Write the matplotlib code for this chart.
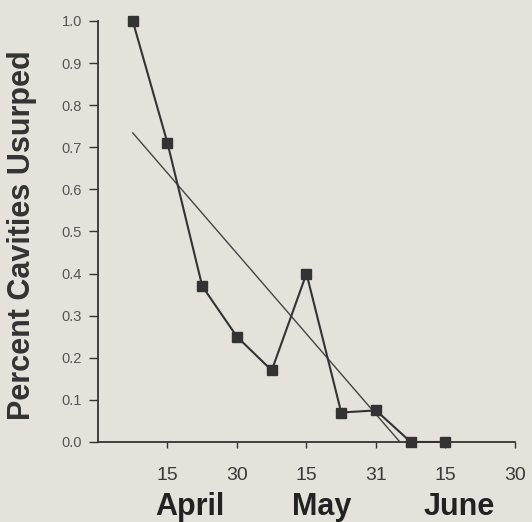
import matplotlib
matplotlib.use("Agg")
import matplotlib.pyplot as plt
import numpy as np

plt.rcParams['font.family'] = ['Liberation Sans', 'DejaVu Sans']

# x in half-month steps from April 1
x_pos = [0.5, 1.0, 1.5, 2.0, 2.5, 3.0, 3.5, 4.0, 4.5, 5.0]
usurped = [1.0, 0.71, 0.37, 0.25, 0.17, 0.40, 0.07, 0.075, 0.0, 0.0]

tick_pos = [1, 2, 3, 4, 5, 6]
tick_labels = ['15', '30', '15', '31', '15', '30']
y_ticks = [0.0, 0.1, 0.2, 0.3, 0.4, 0.5, 0.6, 0.7, 0.8, 0.9, 1.0]

months = ['April', 'May', 'June']
month_pos = [1.32, 3.22, 5.2]

bg = '#e5e2db'
ink = '#333333'

fig = plt.figure(figsize=(5.32, 5.22), dpi=100, facecolor=bg)
ax = fig.add_axes([0.1842, 0.1533, 0.968 - 0.1842, 0.9598 - 0.1533])
ax.set_facecolor(bg)

# least squares trend, drawn from the first point down to zero
slope, icpt = np.polyfit(x_pos, usurped, 1)
x_end = -icpt / slope
xf = np.array([x_pos[0], x_end])
ax.plot(xf, slope * xf + icpt, color='#444444', lw=1.0)

ax.plot(x_pos, usurped, color=ink, lw=1.5, marker='s', ms=7.5, mfc=ink,
        mec=ink, clip_on=False, zorder=5)

ax.set_xlim(0, 6)
ax.set_ylim(0, 1.0)
ax.set_xticks(tick_pos)
ax.set_xticklabels(tick_labels, fontsize=14, color='#3a3a3a')
ax.set_yticks(y_ticks)
ax.set_yticklabels(['%.1f' % v for v in y_ticks], fontsize=10.5, color='#555555')
ax.tick_params(axis='y', direction='out', length=6.5, width=1, color=ink, pad=5)
ax.tick_params(axis='x', direction='out', length=4, width=1, color=ink, pad=14)

for s in ['top', 'right']:
    ax.spines[s].set_visible(False)
for s in ['left', 'bottom']:
    ax.spines[s].set_color(ink)
    ax.spines[s].set_linewidth(1.3)

for m, p in zip(months, month_pos):
    ax.text(p, -0.155, m, ha='center', va='center', fontsize=22,
            fontweight='bold', color='#222222',
            transform=ax.get_xaxis_transform())

fig.text(0.042, 0.55, 'Percent Cavities Usurped', rotation=90, ha='center',
         va='center', fontsize=22, fontweight='bold', color='#333333')

fig.savefig('out.png', dpi=100, facecolor=bg)
